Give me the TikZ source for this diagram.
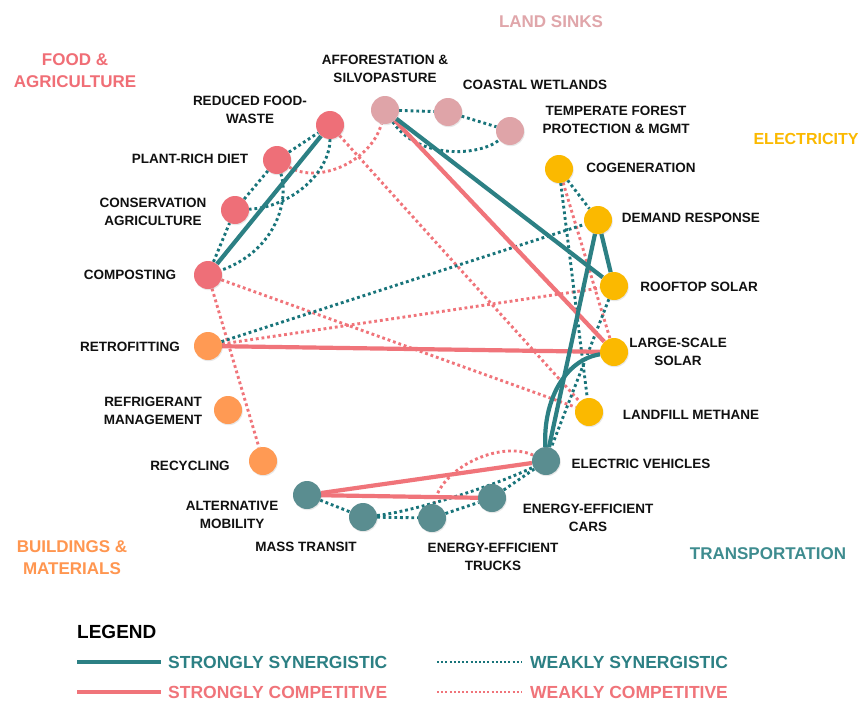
\documentclass[tikz,border=0pt]{standalone}
\usepackage{fontspec}
\setmainfont{Liberation Sans}
\usetikzlibrary{shadows}
\pgfdeclarelayer{bg}
\pgfsetlayers{bg,main}
\definecolor{tealE}{RGB}{44,128,132}
\definecolor{tealD}{RGB}{24,116,122}
\definecolor{salE}{RGB}{240,116,122}
\definecolor{foodC}{RGB}{238,111,120}
\definecolor{landC}{RGB}{223,164,168}
\definecolor{elecC}{RGB}{251,185,0}
\definecolor{bldC}{RGB}{255,154,84}
\definecolor{transC}{RGB}{90,141,144}
\definecolor{transL}{RGB}{62,140,143}
\definecolor{foodL}{RGB}{240,110,118}
\definecolor{landL}{RGB}{224,166,170}
\definecolor{bldL}{RGB}{255,150,80}
\definecolor{txt}{RGB}{17,17,17}
\begin{document}
\begin{tikzpicture}[x=1pt,y=-1pt,
  bub/.style={circle,minimum size=28pt,inner sep=0pt,draw=none,
    drop shadow={opacity=0.18,shadow xshift=0.8pt,shadow yshift=-1.2pt}},
  lbl/.style={font=\bfseries\fontsize{13.5}{17.5}\selectfont,text=txt,align=center,inner sep=0pt},
  cat/.style={font=\bfseries\fontsize{17}{22}\selectfont,align=center,inner sep=0pt},
  legt/.style={font=\bfseries\fontsize{17.5}{22}\selectfont,inner sep=0pt,anchor=west},
  ss/.style={draw=tealE,line width=4.2pt},
  sc/.style={draw=salE,line width=4.2pt},
  ws/.style={draw=tealD,line width=2.9pt,dash pattern=on 2.8pt off 2.9pt},
  wc/.style={draw=salE,line width=2.9pt,dash pattern=on 2.8pt off 2.9pt},
  wsl/.style={draw=tealD,line width=2.2pt,dash pattern=on 2pt off 2.2pt},
  wcl/.style={draw=salE,line width=2.2pt,dash pattern=on 2pt off 2.2pt}
]
\useasboundingbox (0,0) rectangle (862,701);
\begin{pgfonlayer}{bg}
\fill[white] (0,0) rectangle (862,701);
\end{pgfonlayer}

% ---------- nodes ----------
\node[bub,fill=foodC] (rfw) at (330,125) {};
\node[bub,fill=foodC] (prd) at (277,160) {};
\node[bub,fill=foodC] (ca) at (235,210) {};
\node[bub,fill=foodC] (comp) at (208,275) {};
\node[bub,fill=landC] (aff) at (385,110) {};
\node[bub,fill=landC] (cw) at (448,112) {};
\node[bub,fill=landC] (tf) at (510,131) {};
\node[bub,fill=elecC] (cog) at (559,169) {};
\node[bub,fill=elecC] (dr) at (598,220) {};
\node[bub,fill=elecC] (rs) at (614,286) {};
\node[bub,fill=elecC] (lss) at (614,352) {};
\node[bub,fill=elecC] (lm) at (589,412) {};
\node[bub,fill=transC] (ev) at (546,461) {};
\node[bub,fill=transC] (eec) at (492,498) {};
\node[bub,fill=transC] (eet) at (432,518) {};
\node[bub,fill=transC] (mt) at (363,517) {};
\node[bub,fill=transC] (am) at (307,495) {};
\node[bub,fill=bldC] (ret) at (208,346) {};
\node[bub,fill=bldC] (ref) at (228,410) {};
\node[bub,fill=bldC] (rec) at (263,461) {};

% ---------- connectors ----------
\begin{pgfonlayer}{bg}
% weakly competitive
\draw[wc] (prd) .. controls (320,185) and (372,160) .. (aff);
\draw[wc] (rfw) -- (lm);
\draw[wc] (comp) -- (lm);
\draw[wc] (comp) -- (rec);
\draw[wc] (ret) -- (rs);
\draw[wc] (cog) -- (lss);
\draw[wc] (eet) .. controls (440,468) and (500,440) .. (ev);
% weakly synergistic
\draw[ws] (comp) -- (ca);
\draw[ws] (ca) -- (prd);
\draw[ws] (prd) -- (rfw);
\draw[ws] (prd) .. controls (290,205) and (272,252) .. (comp);
\draw[ws] (rfw) .. controls (330,172) and (292,207) .. (ca);
\draw[ws] (aff) -- (cw);
\draw[ws] (cw) -- (tf);
\draw[ws] (aff) .. controls (418,160) and (480,156) .. (tf);
\draw[ws] (cog) -- (dr);
\draw[ws] (cog) -- (lm);
\draw[ws] (rs) -- (ev);
\draw[ws] (ret) -- (dr);
\draw[ws] (am) -- (mt);
\draw[ws] (mt) -- (eet);
\draw[ws] (eet) -- (eec);
\draw[ws] (eec) -- (ev);
\draw[ws] (mt) .. controls (410,512) and (490,488) .. (ev);
% strongly competitive
\draw[sc] (aff) -- (lss);
\draw[sc] (ret) -- (lss);
\draw[sc] (am) -- (ev);
\draw[sc] (am) -- (eec);
% strongly synergistic
\draw[ss] (comp) -- (rfw);
\draw[ss] (aff) -- (rs);
\draw[ss] (dr) -- (rs);
\draw[ss] (dr) -- (ev);
\draw[ss] (lss) .. controls (565,360) and (543,400) .. (ev);
\end{pgfonlayer}

% ---------- node labels ----------
\node[lbl] (t-aff) at (385,69) {AFFORESTATION \&\\SILVOPASTURE};
\node[lbl] (t-cw) at (535,85) {COASTAL WETLANDS};
\node[lbl] (t-tf) at (616,120) {TEMPERATE FOREST\\PROTECTION \& MGMT};
\node[lbl] (t-rfw) at (250,110) {REDUCED FOOD-\\WASTE};
\node[lbl] (t-prd) at (190,159) {PLANT-RICH DIET};
\node[lbl] (t-ca) at (153,212) {CONSERVATION\\AGRICULTURE};
\node[lbl] (t-comp) at (130,275) {COMPOSTING};
\node[lbl] (t-ret) at (130,347) {RETROFITTING};
\node[lbl] (t-ref) at (153,411) {REFRIGERANT\\MANAGEMENT};
\node[lbl] (t-rec) at (190,466) {RECYCLING};
\node[lbl] (t-am) at (232,515) {ALTERNATIVE\\MOBILITY};
\node[lbl] (t-mt) at (306,547) {MASS TRANSIT};
\node[lbl] (t-eet) at (493,557) {ENERGY-EFFICIENT\\TRUCKS};
\node[lbl] (t-eec) at (588,518) {ENERGY-EFFICIENT\\CARS};
\node[lbl] (t-ev) at (641,464) {ELECTRIC VEHICLES};
\node[lbl] (t-lm) at (691,415) {LANDFILL METHANE};
\node[lbl] (t-lss) at (678,352) {LARGE-SCALE\\SOLAR};
\node[lbl] (t-rs) at (699,287) {ROOFTOP SOLAR};
\node[lbl] (t-dr) at (691,218) {DEMAND RESPONSE};
\node[lbl] (t-cog) at (641,168) {COGENERATION};

% ---------- category labels ----------
\node[cat,text=foodL] (c-food) at (75,71) {FOOD \&\\AGRICULTURE};
\node[cat,text=landL] (c-land) at (551,22) {LAND SINKS};
\node[cat,text=elecC,font=\bfseries\fontsize{16}{20}\selectfont] (c-elec) at (806,139) {ELECTRICITY};
\node[cat,text=transL] (c-trans) at (768,554) {TRANSPORTATION};
\node[cat,text=bldL] (c-bld) at (72,558) {BUILDINGS \&\\MATERIALS};

% ---------- legend ----------
\node[font=\bfseries\fontsize{19}{22}\selectfont,inner sep=0pt,anchor=west,text=black] (leg) at (77,632) {LEGEND};
\coordinate (l1a) at (77,662); \coordinate (l1b) at (161,662);
\coordinate (l2a) at (77,692); \coordinate (l2b) at (161,692);
\coordinate (l3a) at (437,662); \coordinate (l3b) at (522,662);
\coordinate (l4a) at (437,692); \coordinate (l4b) at (522,692);
\draw[ss] (l1a) -- (l1b);
\draw[sc] (l2a) -- (l2b);
\draw[wsl] (l3a) -- (l3b);
\draw[wcl] (l4a) -- (l4b);
\node[legt,text=tealE] (lt1) at (168,662) {STRONGLY SYNERGISTIC};
\node[legt,text=salE] (lt2) at (168,692) {STRONGLY COMPETITIVE};
\node[legt,text=tealE] (lt3) at (530,662) {WEAKLY SYNERGISTIC};
\node[legt,text=salE] (lt4) at (530,692) {WEAKLY COMPETITIVE};
\end{tikzpicture}
\end{document}
